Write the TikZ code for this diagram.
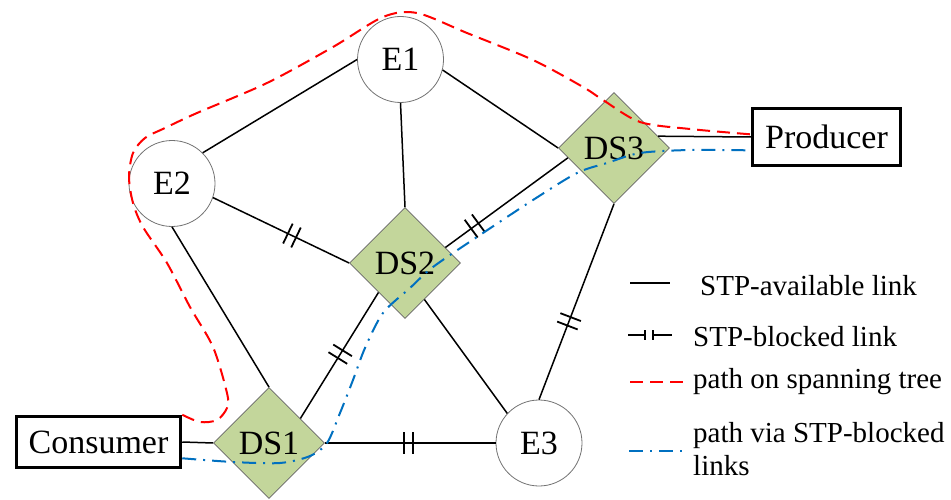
\documentclass[tikz,border=0pt]{standalone}
\usepackage{fontspec}
\setmainfont{Liberation Serif}
\usetikzlibrary{shapes.geometric,decorations.markings}
\definecolor{dsfill}{RGB}{195,214,155}
\definecolor{treered}{RGB}{255,0,0}
\definecolor{altblue}{RGB}{0,112,192}
\begin{document}
\begin{tikzpicture}[x=1pt,y=-1pt,
  endpoint/.style={circle,draw=black!55,line width=0.8pt,minimum size=86pt,inner sep=0pt,
    font=\fontsize{34}{40}\selectfont},
  switchnode/.style={diamond,aspect=1,draw=black!60,line width=0.8pt,fill=dsfill,
    minimum width=111pt,minimum height=111pt,inner sep=0pt,font=\fontsize{34}{40}\selectfont},
  hostbox/.style={rectangle,draw=black,line width=3.5pt,inner sep=0pt,
    font=\fontsize{34}{40}\selectfont},
  link/.style={line width=1.5pt},
  blockedlink/.style={link,postaction={decorate},
    decoration={markings,mark=at position #1 with
      {\draw[line width=1.8pt] (-4.5,-11)--(-4.5,11) (4.5,-11)--(4.5,11);}}},
  treepath/.style={treered,line width=2pt,dash pattern=on 13pt off 7pt},
  altpath/.style={altblue,line width=2pt,dash pattern=on 14pt off 7pt on 2pt off 7pt},
  legendtext/.style={anchor=base west,inner sep=0pt,font=\fontsize{29}{34}\selectfont},
]
\useasboundingbox (0,0) rectangle (951,500);

% end stations and switches
\node[endpoint] (E1) at (400.5,59.5) {E1};
\node[endpoint] (E2) at (172,183.5) {E2};
\node[endpoint] (E3) at (539,443) {E3};
\node[switchnode] (DS1) at (269,443) {DS1};
\node[switchnode] (DS2) at (405,263) {DS2};
\node[switchnode] (DS3) at (614,148) {DS3};
\node[hostbox,minimum width=164pt,minimum height=51pt] (Consumer) at (98.5,442) {Consumer};
\node[hostbox,minimum width=148pt,minimum height=57pt] (Producer) at (826.5,137) {Producer};

% links
\draw[link] (E2.45) -- (E1.west);
\draw[link] (E1.south) -- (DS2.north);
\draw[link] (E1.-14) -- (DS3.west);
\draw[blockedlink=0.58] (E2.-19) -- (DS2.west);
\draw[link] (E2.south) -- (DS1.north);
\draw[blockedlink=0.24] (DS2.21) -- (DS3.192);
\draw[blockedlink=0.49] (DS2.228) -- (DS1.38);
\draw[link] (DS2.-62) -- (E3.137);
\draw[blockedlink=0.6] (DS3.south) -- (E3.north);
\draw[blockedlink=0.49] (DS1.east) -- (E3.west);
\draw[link] (Consumer.east) -- (DS1.west);
\draw[link] (DS3.15) -- (Producer.west);

% path along the spanning tree
\draw[treepath] plot[smooth,tension=0.5] coordinates {
  (Consumer.north east) (200,422) (217,420) (227,408) (227,393) (213,347) (190,307)
  (167,263) (143,227) (133,203) (129,177) (133,153) (145,138) (165,128) (197,113)
  (267,83) (333,47) (383,17) (417,13) (467,33) (533,60) (583,87) (603,100) (640,122)
  (690,129) (Producer.178)};

% path through the blocked links
\draw[altpath] plot[smooth,tension=0.5] coordinates {
  (Consumer.-11) (233,462) (280,463) (310,456) (327,443) (340,413) (353,380) (365,348)
  (383,313) (410,288) (433,267) (477,237) (533,200) (577,173) (607,163) (640,153)
  (690,150) (Producer.190)};

% legend
\draw[link] (630,283) -- (670,283);
\node[legendtext] (lgavail) at (700,295) {STP-available link};
\draw[link] (628,335) -- (645,335) (645,330) -- (645,340)
  (653,330) -- (653,340) (653,335) -- (672,335);
\node[legendtext] (lgblocked) at (693,346) {STP-blocked link};
\draw[treepath] (630,382) -- (683,382);
\node[legendtext] (lgtree) at (693,388) {path on spanning tree};
\draw[altpath] (629,451) -- (684,451);
\node[legendtext] (lgalt1) at (693,442) {path via STP-blocked};
\node[legendtext] (lgalt2) at (693,475) {links};
\end{tikzpicture}
\end{document}
